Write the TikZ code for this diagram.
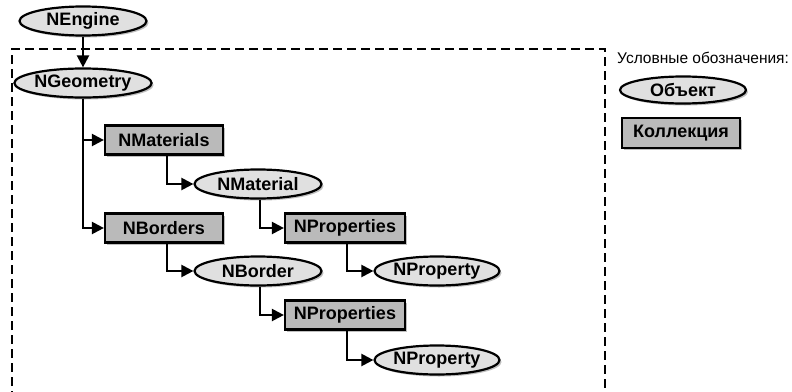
\documentclass[tikz,border=0pt]{standalone}
\usepackage{fontspec}
\setmainfont{Liberation Sans}
\usetikzlibrary{shapes.geometric,arrows.meta,shadows}
\begin{document}
\begin{tikzpicture}[x=1pt,y=-1pt,
  shad/.style={drop shadow={shadow xshift=2pt,shadow yshift=-2pt,fill=black,opacity=.25}},
  obj/.style={ellipse,draw=black,line width=2.2pt,fill=black!12,minimum width=127pt,minimum height=29pt,inner sep=0pt,font=\fontsize{18}{21}\selectfont\bfseries,shad},
  coll/.style={rectangle,draw=black,line width=2.2pt,fill=black!27,minimum width=118pt,minimum height=29pt,inner sep=0pt,font=\fontsize{18}{21}\selectfont\bfseries,shad},
  conn/.style={line width=2.2pt,-{Triangle[length=12pt,width=12pt]}}]
\useasboundingbox (0,0) rectangle (792,391);
\draw[line width=2.2pt,dash pattern=on 9pt off 5pt] (12,400) -- (12,49) -- (605,49) -- (605,400);
\node[obj] (eng) at (83,21) {NEngine};
\node[obj,minimum width=129pt] (geo) at (83,83) {NGeometry};
\node[coll] (mats) at (164,140) {NMaterials};
\node[obj] (mat) at (258,184) {NMaterial};
\node[coll] (bords) at (164,228) {NBorders};
\node[coll,minimum width=120pt] (props1) at (345,228) {NProperties};
\node[obj] (bord) at (258,271) {NBorder};
\node[obj,minimum width=125pt] (prop1) at (437,271) {NProperty};
\node[coll,minimum width=120pt] (props2) at (345,315) {NProperties};
\node[obj,minimum width=125pt] (prop2) at (437,360) {NProperty};
\draw[conn] (eng) -- (geo);
\draw[conn] (geo.south) |- (mats.west);
\draw[conn] (geo.south) |- (bords.west);
\draw[conn] ([xshift=3pt]mats.south) |- (mat.west);
\draw[conn] ([xshift=3pt]bords.south) |- (bord.west);
\draw[conn] ([xshift=2pt]mat.south) |- (props1.west);
\draw[conn] ([xshift=2pt]bord.south) |- (props2.west);
\draw[conn] ([xshift=2pt]props1.south) |- (prop1.west);
\draw[conn] ([xshift=2pt]props2.south) |- (prop2.west);
\node[anchor=west,font=\fontsize{15.5}{18}\selectfont,inner sep=0pt] (leg) at (617,58) {Условные обозначения:};
\node[obj,minimum width=126pt,minimum height=27pt] (lobj) at (683,90) {Объект};
\node[coll,minimum width=118pt,minimum height=30pt] (lcoll) at (681,133) {Коллекция};
\end{tikzpicture}
\end{document}
